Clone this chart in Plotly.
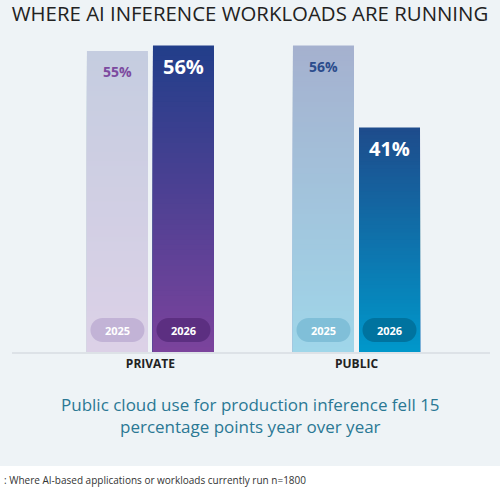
import re
import plotly.graph_objects as go

categories = ["PRIVATE", "PUBLIC"]
years = ["2025", "2026"]
values_2025 = [55, 56]
values_2026 = [56, 41]
labels_2025 = ["55%", "56%"]
labels_2026 = ["56%", "41%"]

title = "WHERE AI INFERENCE WORKLOADS ARE RUNNING"
subtitle = "Public cloud use for production inference fell 15<br>percentage points year over year"
footnote = ": Where AI-based applications or workloads currently run n=1800"

FONT = "Open Sans"
BG = "#eef3f6"

# (top colour, bottom colour) of each bar, per category
grad = {
    "2025": [("#c5cde0", "#dcd1e7"), ("#a5b1cf", "#9fd6e9")],
    "2026": [("#223e8a", "#7b439c"), ("#1e4c8c", "#0097ca")],
}
pill_col = {"2025": ["#c2b3d6", "#80bfd8"], "2026": ["#5c2f81", "#00739f"]}
label_col = {"2025": ["#7c4a9f", "#2b4c8c"], "2026": ["white", "white"]}
label_size = {"2025": 14, "2026": 20}
shift = {"2025": -33, "2026": 33}
vals = {"2025": values_2025, "2026": values_2026}
labs = {"2025": labels_2025, "2026": labels_2026}


def mix(c1, c2, t):
    a = [int(c1[i:i + 2], 16) for i in (1, 3, 5)]
    b = [int(c2[i:i + 2], 16) for i in (1, 3, 5)]
    return "#" + "".join("%02x" % round(a[i] + (b[i] - a[i]) * t) for i in range(3))


N = 60
fig = go.Figure()
# gradient: overlay progressively shorter bars, each a bit closer to the bottom colour
for yr in years:
    for k in range(N):
        frac = (N - k) / N
        t = k / (N - 1)
        fig.add_trace(go.Bar(
            x=categories, y=[v * frac for v in vals[yr]],
            offsetgroup=yr, showlegend=False, hoverinfo="skip",
            marker=dict(color=[mix(g[0], g[1], t) for g in grad[yr]], line_width=0),
        ))


def pill(w, h, dx, dy):
    r = h / 2
    x0, x1 = -w / 2, w / 2
    p = (f"M{x0 + r},0 L{x1 - r},0 C{x1 - r + r * 0.55},0 {x1},{r - r * 0.55} {x1},{r} "
         f"C{x1},{r + r * 0.55} {x1 - r + r * 0.55},{h} {x1 - r},{h} L{x0 + r},{h} "
         f"C{x0 + r - r * 0.55},{h} {x0},{r + r * 0.55} {x0},{r} "
         f"C{x0},{r - r * 0.55} {x0 + r - r * 0.55},0 {x0 + r},0 Z")
    return re.sub(r"(-?\d+\.?\d*),(-?\d+\.?\d*)",
                  lambda m: f"{float(m.group(1)) + dx:.2f},{float(m.group(2)) + dy:.2f}", p)


shapes = [dict(type="rect", xref="paper", yref="paper", x0=-0.1, x1=1.1, y0=-0.6, y1=-0.3654,
               fillcolor="white", line_width=0, layer="below")]
annotations = []
for yr in years:
    for i, cat in enumerate(categories):
        shapes.append(dict(type="path", xref="x", yref="y", xsizemode="pixel", ysizemode="pixel",
                           xanchor=cat, yanchor=0, path=pill(54, 24, shift[yr], 10),
                           fillcolor=pill_col[yr][i], line_width=0, layer="above"))
        annotations.append(dict(x=cat, y=0, xshift=shift[yr], yshift=22, text="<b>" + yr + "</b>",
                                showarrow=False, yanchor="middle",
                                font=dict(family=FONT, size=11, color="white")))
        annotations.append(dict(x=cat, y=vals[yr][i], xshift=shift[yr], yshift=-21,
                                text="<b>" + labs[yr][i] + "</b>", showarrow=False, yanchor="middle",
                                font=dict(family=FONT, size=label_size[yr], color=label_col[yr][i])))

annotations.append(dict(xref="paper", yref="paper", x=0.498, y=-0.205, text=subtitle,
                        showarrow=False, yanchor="middle", align="center",
                        font=dict(family=FONT, size=17, color="#2a7894")))
annotations.append(dict(xref="paper", yref="paper", x=-0.021, y=-0.41, text=footnote,
                        showarrow=False, xanchor="left", yanchor="middle",
                        font=dict(family=FONT, size=10, color="#333333")))

fig.update_layout(
    width=500, height=491,
    margin=dict(l=12, r=10, t=40, b=139),
    paper_bgcolor=BG, plot_bgcolor="rgba(0,0,0,0)",
    barmode="group", bargap=0.359, bargroupgap=0.076,
    title=dict(text=title, x=0.5, xanchor="center", y=1 - 14 / 491, yanchor="middle",
               font=dict(family=FONT, size=20.4, color="#222222")),
    xaxis=dict(type="category", range=[-0.672, 1.648], showline=True, linecolor="#dde2e7",
               linewidth=1.5, ticks="", showgrid=False, tickvals=categories,
               ticktext=["<b>" + c + "</b>" for c in categories],
               tickfont=dict(family=FONT, size=12, color="#222222")),
    yaxis=dict(range=[0, 57], visible=False),
    shapes=shapes, annotations=annotations,
)

fig.write_html("out.html", config={"displayModeBar": False},
               post_script="document.body.style.margin='0';")
